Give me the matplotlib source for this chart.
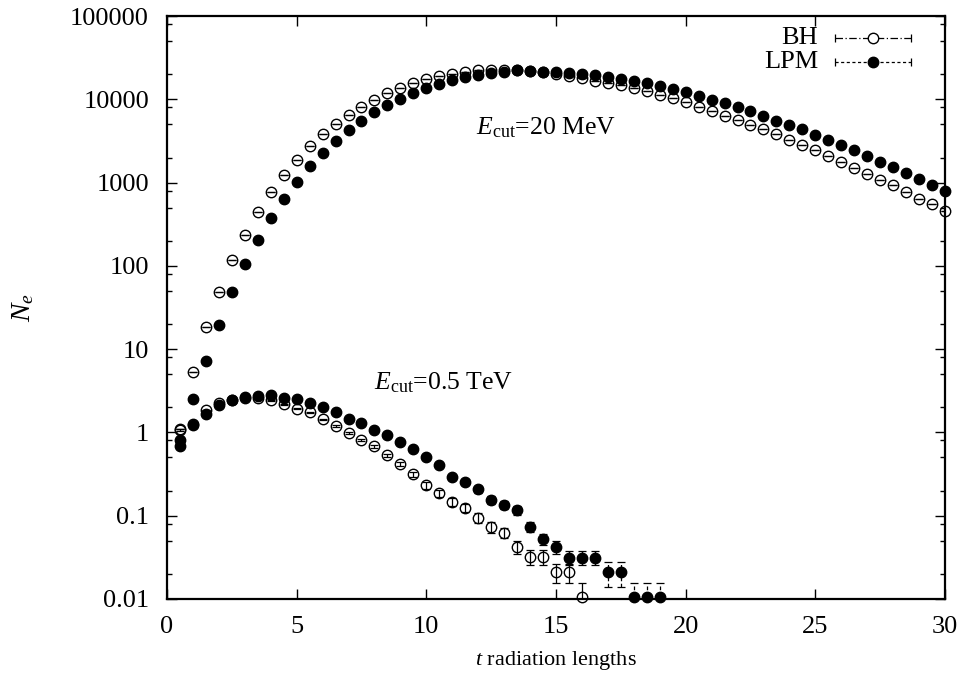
import matplotlib

matplotlib.use("Agg")
import matplotlib.pyplot as plt
from matplotlib.ticker import LogLocator, NullFormatter

plt.rcParams["font.family"] = ["Liberation Serif", "DejaVu Serif"]
plt.rcParams["mathtext.fontset"] = "custom"
plt.rcParams["mathtext.rm"] = "Liberation Serif"
plt.rcParams["mathtext.it"] = "Liberation Serif:italic"

# depth in radiation lengths
T_20MEV = [0.5, 1.0, 1.5, 2.0, 2.5, 3.0, 3.5, 4.0, 4.5, 5.0,
           5.5, 6.0, 6.5, 7.0, 7.5, 8.0, 8.5, 9.0, 9.5, 10.0,
           10.5, 11.0, 11.5, 12.0, 12.5, 13.0, 13.5, 14.0, 14.5, 15.0,
           15.5, 16.0, 16.5, 17.0, 17.5, 18.0, 18.5, 19.0, 19.5, 20.0,
           20.5, 21.0, 21.5, 22.0, 22.5, 23.0, 23.5, 24.0, 24.5, 25.0,
           25.5, 26.0, 26.5, 27.0, 27.5, 28.0, 28.5, 29.0, 29.5, 30.0]

# E_cut = 20 MeV
BH_20MEV = [1.1, 5.3, 18.4, 48, 118, 238, 441, 767, 1250, 1890,
            2735, 3780, 5080, 6560, 8190, 9940, 11960, 13600, 15600, 17300,
            18900, 20300, 21500, 22200, 22400, 22600, 22400, 21600, 21000, 20200,
            19000, 18000, 16800, 15800, 14800, 13600, 12500, 11400, 10400, 9200,
            8100, 7200, 6340, 5680, 4980, 4370, 3780, 3270, 2790, 2430,
            2060, 1760, 1510, 1280, 1080, 923, 767, 639, 546, 454]
LPM_20MEV = [0.8, 2.5, 7.3, 19.6, 48, 104, 207, 378, 639, 1030,
             1573, 2280, 3200, 4300, 5560, 7000, 8490, 10100, 11800, 13600,
             15300, 17000, 18600, 19700, 20500, 21500, 22200, 21800, 21500, 21100,
             20700, 20200, 19700, 18400, 17600, 16600, 15800, 14600, 13400, 12300,
             11000, 9860, 8980, 8040, 7200, 6340, 5560, 4940, 4340, 3750,
             3270, 2840, 2430, 2080, 1790, 1530, 1300, 1110, 941, 788]

# E_cut = 0.5 TeV
T_BH_05TEV = [0.5, 1.0, 1.5, 2.0, 2.5, 3.0, 3.5, 4.0, 4.5, 5.0,
              5.5, 6.0, 6.5, 7.0, 7.5, 8.0, 8.5, 9.0, 9.5, 10.0,
              10.5, 11.0, 11.5, 12.0, 12.5, 13.0, 13.5, 14.0, 14.5, 15.0,
              15.5, 16.0]
BH_05TEV = [1.08, 1.25, 1.84, 2.25, 2.45, 2.58, 2.58, 2.42, 2.17, 1.92,
            1.75, 1.43, 1.19, 0.99, 0.82, 0.68, 0.53, 0.42, 0.313, 0.231,
            0.188, 0.146, 0.125, 0.095, 0.073, 0.0625, 0.042, 0.032, 0.032, 0.021,
            0.021, 0.0105]
BH_05TEV_ERR = [0.03, 0.03, 0.03, 0.03, 0.03, 0.03, 0.03, 0.03, 0.03, 0.03,
                0.03, 0.03, 0.03, 0.03, 0.025, 0.025, 0.025, 0.025, 0.02, 0.02,
                0.018, 0.016, 0.014, 0.013, 0.011, 0.0085, 0.0075, 0.0065, 0.0065, 0.0053,
                0.0053, 0.005]

T_LPM_05TEV = [0.5, 1.0, 1.5, 2.0, 2.5, 3.0, 3.5, 4.0, 4.5, 5.0,
               5.5, 6.0, 6.5, 7.0, 7.5, 8.0, 8.5, 9.0, 9.5, 10.0,
               10.5, 11.0, 11.5, 12.0, 12.5, 13.0, 13.5, 14.0, 14.5, 15.0,
               15.5, 16.0, 16.5, 17.0, 17.5, 18.0, 18.5, 19.0]
LPM_05TEV = [0.68, 1.24, 1.68, 2.11, 2.42, 2.65, 2.70, 2.78, 2.61, 2.49,
             2.25, 2.01, 1.75, 1.46, 1.29, 1.06, 0.92, 0.77, 0.625, 0.505,
             0.405, 0.291, 0.253, 0.209, 0.156, 0.136, 0.116, 0.073, 0.0525, 0.042,
             0.0313, 0.0313, 0.0313, 0.021, 0.021, 0.0105, 0.0105, 0.0105]
LPM_05TEV_ERR = [0.03, 0.03, 0.03, 0.03, 0.03, 0.03, 0.03, 0.03, 0.03, 0.03,
                 0.03, 0.03, 0.03, 0.03, 0.025, 0.025, 0.025, 0.025, 0.02, 0.02,
                 0.02, 0.02, 0.02, 0.02, 0.018, 0.016, 0.013, 0.010, 0.008, 0.007,
                 0.006, 0.006, 0.006, 0.007, 0.007, 0.005, 0.005, 0.005]

Y_TICKS = [0.01, 0.1, 1, 10, 100, 1000, 10000, 100000]
Y_LABELS = ["0.01", "0.1", "1", "10", "100", "1000", "10000", "100000"]
X_TICKS = [0, 5, 10, 15, 20, 25, 30]

FS = 19
MS = 7.5
DASHED = (0, (3, 2))


def draw(ax, t, v, err, filled, ls):
    eb = ax.errorbar(t, v, yerr=err, fmt="none", ecolor="black",
                     elinewidth=0.9, capsize=3, capthick=0.9, zorder=3)
    for col in eb[2]:
        col.set_linestyle(ls)
    ax.plot(t, v, "o", ms=MS, mfc="black" if filled else "none",
            mec="black", mew=1.0, clip_on=False, zorder=4)


fig = plt.figure(figsize=(9.62, 6.88), dpi=100)
ax = fig.add_axes([0.1736, 0.1294, 0.8087, 0.8473])

zeros20 = [0.0] * len(T_20MEV)
draw(ax, T_20MEV, BH_20MEV, zeros20, False, "-")
draw(ax, T_20MEV, LPM_20MEV, zeros20, True, DASHED)
draw(ax, T_BH_05TEV, BH_05TEV, BH_05TEV_ERR, False, "-")
draw(ax, T_LPM_05TEV, LPM_05TEV, LPM_05TEV_ERR, True, DASHED)

ax.set_yscale("log")
ax.set_xlim(0, 30)
ax.set_ylim(0.01, 100000)
ax.set_yticks(Y_TICKS)
ax.set_yticklabels(Y_LABELS)
ax.yaxis.set_minor_locator(LogLocator(base=10, subs=(2, 5, 8)))
ax.yaxis.set_minor_formatter(NullFormatter())
ax.set_xticks(X_TICKS)
ax.set_xticklabels([str(x) for x in X_TICKS])
ax.tick_params(which="both", direction="in", top=True, right=True, width=1)
ax.tick_params(which="major", length=7, labelsize=FS)
ax.tick_params(axis="x", which="major", pad=12)
ax.tick_params(axis="y", which="major", pad=13)
ax.tick_params(which="minor", length=3.5)
for sp in ax.spines.values():
    sp.set_linewidth(1.6)

ax.set_xlabel(r"$t$ radiation lengths", fontsize=16)
ax.xaxis.set_label_coords(0.5, -0.085)
ax.set_ylabel(r"$N_e$", fontsize=20)
ax.yaxis.set_label_coords(-0.168, 0.5)

ax.text(11.9, 4600, r"$E_{\rm cut}$=20 MeV", fontsize=18.5, ha="left", va="center")
ax.text(8.0, 4.0, r"$E_{\rm cut}$=0.5 TeV", fontsize=18.5, ha="left", va="center")

# gnuplot-style key: label, then a line with end caps and the point in the middle
for y, name, ls, filled in ((0.962, "BH", (0, (6, 2, 1, 2)), False),
                            (0.921, "LPM", (0, (2.5, 2)), True)):
    ax.text(0.837, y, name, transform=ax.transAxes, fontsize=FS,
            ha="right", va="center")
    ax.plot([0.859, 0.956], [y, y], transform=ax.transAxes, color="black",
            lw=0.9, ls=ls)
    ax.plot([0.859, 0.956], [y, y], transform=ax.transAxes, color="black",
            lw=0, marker="|", ms=6, mew=0.9)
    ax.plot([0.907], [y], transform=ax.transAxes, marker="o", ms=MS,
            mfc="black" if filled else "white", mec="black", mew=1.0)

fig.savefig("out.png", dpi=100)
